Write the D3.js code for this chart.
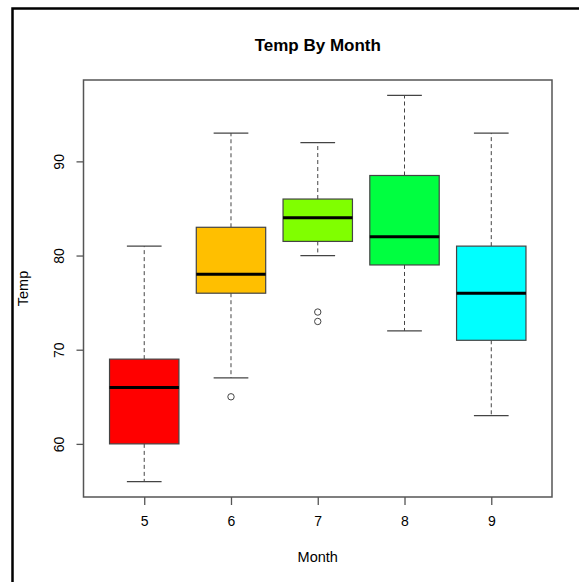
<!DOCTYPE html>
<html><head><meta charset="utf-8">
<script src="https://cdn.jsdelivr.net/npm/d3@7"></script>
<style>body{margin:0;background:#fff}svg{display:block}text{font-family:"Liberation Sans",Arial,sans-serif}</style>
</head><body><svg id="c" width="579" height="582"></svg>
<script>
const months = ["5","6","7","8","9"];
const whiskerLow = [56, 67, 80, 72, 63];
const q1 = [60, 76, 81.5, 79, 71];
const median = [66, 78, 84, 82, 76];
const q3 = [69, 83, 86, 88.5, 81];
const whiskerHigh = [81, 93, 92, 97, 93];
const outliers = [[], [65], [73, 74], [], []];
const colors = ["#FF0000", "#FFBF00", "#80FF00", "#00FF40", "#00FFFF"];
const yTicks = [60, 70, 80, 90];

const svg = d3.select("#c");
// outer frame
svg.append("rect").attr("x", 12.5).attr("y", 8.5).attr("width", 700).attr("height", 700)
  .attr("fill", "none").attr("stroke", "#000").attr("stroke-width", 2.5);

const L = 83.5, R = 552, T = 80, B = 497;
const x = d3.scaleLinear().domain([0.3, 5.7]).range([L, R]);
const y = d3.scaleLinear().domain([54.36, 98.64]).range([B, T]);
const bw = 0.4;

const g = svg.append("g");
months.forEach((m, i) => {
  const cx = x(i + 1);
  const dash = "4,3";
  g.append("line").attr("x1", cx).attr("x2", cx).attr("y1", y(q3[i])).attr("y2", y(whiskerHigh[i]))
    .attr("stroke", "#444").attr("stroke-dasharray", dash);
  g.append("line").attr("x1", cx).attr("x2", cx).attr("y1", y(q1[i])).attr("y2", y(whiskerLow[i]))
    .attr("stroke", "#444").attr("stroke-dasharray", dash);
  [whiskerHigh[i], whiskerLow[i]].forEach(v => {
    g.append("line").attr("x1", x(i + 1 - bw / 2)).attr("x2", x(i + 1 + bw / 2))
      .attr("y1", y(v)).attr("y2", y(v)).attr("stroke", "#444").attr("stroke-width", 1.3);
  });
  g.append("rect").attr("x", x(i + 1 - bw)).attr("width", x(i + 1 + bw) - x(i + 1 - bw))
    .attr("y", y(q3[i])).attr("height", y(q1[i]) - y(q3[i]))
    .attr("fill", colors[i]).attr("stroke", "#444").attr("stroke-width", 1.2);
  g.append("line").attr("x1", x(i + 1 - bw)).attr("x2", x(i + 1 + bw))
    .attr("y1", y(median[i])).attr("y2", y(median[i])).attr("stroke", "#000").attr("stroke-width", 3);
  outliers[i].forEach(v => {
    g.append("circle").attr("cx", cx).attr("cy", y(v)).attr("r", 3.2)
      .attr("fill", "none").attr("stroke", "#444").attr("stroke-width", 1);
  });
});

// plot box
svg.append("rect").attr("x", L).attr("y", T).attr("width", R - L).attr("height", B - T)
  .attr("fill", "none").attr("stroke", "#555").attr("stroke-width", 1.5);

// x axis
const xa = svg.append("g").attr("transform", `translate(0,${B})`)
  .call(d3.axisBottom(x).tickValues([1, 2, 3, 4, 5]).tickFormat(d => months[d - 1]).tickSize(8).tickPadding(11));
xa.select(".domain").remove();
xa.selectAll("line").attr("stroke", "#555").attr("stroke-width", 1.3);
xa.selectAll("text").attr("font-size", 14).attr("fill", "#000");

// y axis
const ya = svg.append("g").attr("transform", `translate(${L},0)`)
  .call(d3.axisLeft(y).tickValues(yTicks).tickSize(7).tickPadding(0));
ya.select(".domain").remove();
ya.selectAll("line").attr("stroke", "#555").attr("stroke-width", 1.3);
ya.selectAll(".tick text").attr("font-size", 14).attr("fill", "#000")
  .attr("text-anchor", "middle").attr("dy", 0)
  .attr("transform", "rotate(-90)").attr("x", 0).attr("y", -20);

svg.append("text").attr("x", (L + R) / 2).attr("y", 51).attr("text-anchor", "middle")
  .attr("font-size", 17).attr("font-weight", "bold").text("Temp By Month");
svg.append("text").attr("x", (L + R) / 2).attr("y", 562).attr("text-anchor", "middle")
  .attr("font-size", 14.5).text("Month");
svg.append("text").attr("transform", `translate(28,${(T + B) / 2}) rotate(-90)`).attr("text-anchor", "middle")
  .attr("font-size", 14.5).text("Temp");
</script></body></html>
